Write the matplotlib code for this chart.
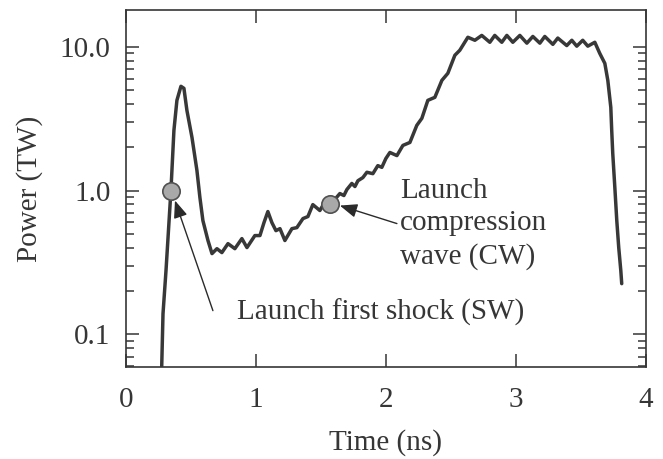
import matplotlib
matplotlib.use("Agg")
import matplotlib.pyplot as plt
from matplotlib.ticker import FixedLocator, LogLocator, NullFormatter

# ------- data -------
time_ns = [0.273, 0.285, 0.308, 0.346, 0.369, 0.392, 0.423, 0.446, 0.469, 0.508,
           0.546, 0.569, 0.592, 0.631, 0.662, 0.700, 0.738, 0.785, 0.838, 0.892,
           0.931, 0.992, 1.031, 1.062, 1.092, 1.123, 1.154, 1.185, 1.223, 1.277,
           1.315, 1.362, 1.400, 1.438, 1.492, 1.538, 1.600, 1.646, 1.677, 1.700,
           1.738, 1.762, 1.785, 1.823, 1.854, 1.900, 1.938, 1.969, 2.000, 2.031,
           2.085, 2.131, 2.185, 2.238, 2.277, 2.323, 2.377, 2.431, 2.477, 2.531,
           2.569, 2.631, 2.685, 2.738, 2.800, 2.838, 2.892, 2.931, 2.977, 3.031,
           3.085, 3.131, 3.185, 3.223, 3.285, 3.323, 3.392, 3.431, 3.469, 3.515,
           3.554, 3.608, 3.646, 3.685, 3.708, 3.731, 3.738, 3.746, 3.762, 3.777,
           3.792, 3.808, 3.815]
power_tw = [0.050, 0.139, 0.277, 1.00, 2.62, 4.24, 5.31, 5.14, 3.61, 2.34,
            1.38, 0.894, 0.618, 0.449, 0.364, 0.394, 0.370, 0.427, 0.394, 0.463,
            0.401, 0.486, 0.486, 0.598, 0.714, 0.598, 0.526, 0.543, 0.449, 0.543,
            0.552, 0.638, 0.659, 0.798, 0.726, 0.852, 0.852, 0.953, 0.923, 1.016,
            1.12, 1.066, 1.17, 1.23, 1.34, 1.31, 1.49, 1.45, 1.67, 1.84,
            1.75, 2.06, 2.16, 2.84, 3.18, 4.24, 4.45, 5.84, 6.54, 8.73,
            9.46, 11.65, 11.1, 12.0, 10.75, 12.0, 10.75, 12.0, 10.75, 12.0,
            10.6, 11.8, 10.6, 11.8, 10.4, 11.5, 10.2, 11.1, 10.1, 11.1,
            10.1, 10.75, 9.0, 7.67, 5.84, 3.79, 2.62, 1.81, 1.05, 0.618,
            0.401, 0.277, 0.225]

# marked launch points
sw_point = (0.346, 1.0)
cw_point = (1.569, 0.812)

x_ticks = [0, 1, 2, 3, 4]
y_ticks = [0.1, 1.0, 10.0]
y_tick_labels = ["0.1", "1.0", "10.0"]

# ------- style -------
ink = "#363636"
plt.rcParams["font.family"] = ["Liberation Serif", "DejaVu Serif"]
plt.rcParams["font.size"] = 21
plt.rcParams["text.color"] = ink
plt.rcParams["axes.labelcolor"] = ink
plt.rcParams["xtick.color"] = ink
plt.rcParams["ytick.color"] = ink

fig = plt.figure(figsize=(6.63, 4.59), dpi=100)
ax = fig.add_axes([0.190, 0.200, 0.784, 0.778])

ax.plot(time_ns, power_tw, color="#383838", linewidth=2.5,
        solid_joinstyle="round", solid_capstyle="round", zorder=2)
for px, py in (sw_point, cw_point):
    ax.plot(px, py, marker="o", markersize=12.5, markerfacecolor="#a9a9a9",
            markeredgecolor="#505050", markeredgewidth=1.2, zorder=3)

ax.set_yscale("log")
ax.set_xlim(0, 4)
ax.set_ylim(0.059, 18.0)

ax.xaxis.set_major_locator(FixedLocator(x_ticks))
ax.yaxis.set_major_locator(FixedLocator(y_ticks))
ax.set_yticklabels(y_tick_labels)
ax.yaxis.set_minor_locator(LogLocator(base=10, subs=range(2, 10)))
ax.yaxis.set_minor_formatter(NullFormatter())

ax.tick_params(which="both", direction="in", top=True, right=True, width=1.1)
ax.tick_params(which="major", length=9.5)
ax.tick_params(which="minor", length=5.5)
ax.tick_params(axis="x", pad=14)
ax.tick_params(axis="y", pad=11)
for sp in ax.spines.values():
    sp.set_linewidth(1.2)
    sp.set_color(ink)

ax.set_xlabel("Time (ns)", labelpad=12)
ax.set_ylabel("Power (TW)", labelpad=12)

arrow = dict(arrowstyle="-|>,head_length=0.7,head_width=0.28",
             color="#2a2a2a", linewidth=1.0, shrinkA=0, shrinkB=0,
             mutation_scale=15)
ax.annotate("", xy=(0.377, 0.852), xytext=(0.669, 0.146), arrowprops=arrow)
ax.annotate("", xy=(1.646, 0.786), xytext=(2.085, 0.589), arrowprops=arrow)

ax.text(0.854, 0.126, "Launch first shock (SW)", ha="left", va="baseline")
# baseline of the last line ("wave (CW)")
ax.text(2.108, 0.310, "Launch\ncompression\nwave (CW)", ha="left",
        va="baseline", linespacing=1.33)

fig.savefig("out.png", dpi=100)
